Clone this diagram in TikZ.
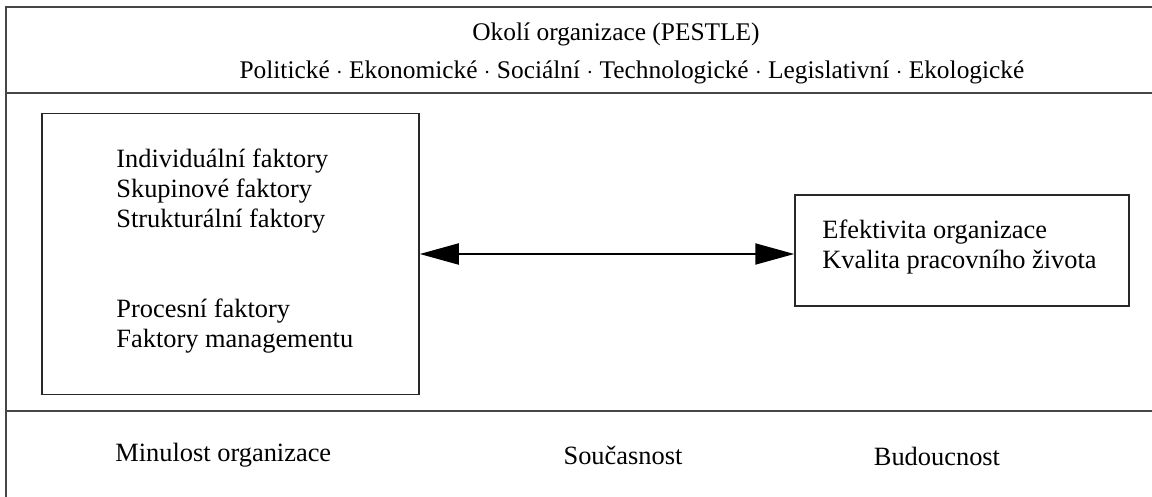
\documentclass[tikz,border=0pt]{standalone}
\usepackage{fontspec}
\setmainfont{Liberation Serif}
\usetikzlibrary{positioning,arrows.meta}
\definecolor{frGray}{RGB}{70,70,70}
\definecolor{bxGray}{RGB}{40,40,40}
\tikzset{
    base/.style={font=\fontsize{12.7}{15}\selectfont, inner sep=0pt},
    item/.style={font=\fontsize{13.2}{15}\selectfont, inner sep=0pt, align=left, anchor=west},
    era/.style={font=\fontsize{13.2}{15}\selectfont, inner sep=0pt},
    frame/.style={draw=frGray, line width=1pt},
    panel/.style={rectangle, draw=bxGray, line width=0.75pt, inner sep=0pt},
    link/.style={{Triangle[length=19.5pt,width=10.5pt]}-{Triangle[length=19.5pt,width=10.5pt]},
                 line width=1pt, black}
}

\begin{document}
\begin{tikzpicture}[x=0.5pt, y=-0.5pt]
  \useasboundingbox (0,0) rectangle (1152,497);

  % Outer frame and bands
  \draw[frame] (6,497) -- (6,7) -- (1152,7);
  \draw[frame] (6,93) -- (1152,93);
  \draw[frame] (6,411) -- (1152,411);

  % Environment
  \node[base] (env) at (616,34) {Okolí organizace (PESTLE)};
  \node[base] (pestle) at (632,72) {Politické $\cdot$ Ekonomické $\cdot$ Sociální $\cdot$ Technologické $\cdot$ Legislativní $\cdot$ Ekologické};

  % Factors box
  \node[panel, minimum width=188.5pt, minimum height=140.5pt] (lbox) at (230.5,254) {};
  \node[item] (grpA) at (116,191) {Individuální faktory\\Skupinové faktory\\Strukturální faktory};
  \node[item] (grpB) at (116,326) {Procesní faktory\\Faktory managementu};

  % Outcome box
  \node[panel, minimum width=167pt, minimum height=55.5pt] (rbox) at (962,250.5) {};
  \node[item] (outc) at (822,247) {Efektivita organizace\\Kvalita pracovního života};

  % Link
  \draw[link] (lbox.east) -- (lbox.east -| rbox.west);

  % Time axis
  \node[era, anchor=west] (past) at (115,455) {Minulost organizace};
  \node[era] (now) at (623,455) {Současnost};
  \node[era] (future) at (937,456) {Budoucnost};
\end{tikzpicture}
\end{document}
